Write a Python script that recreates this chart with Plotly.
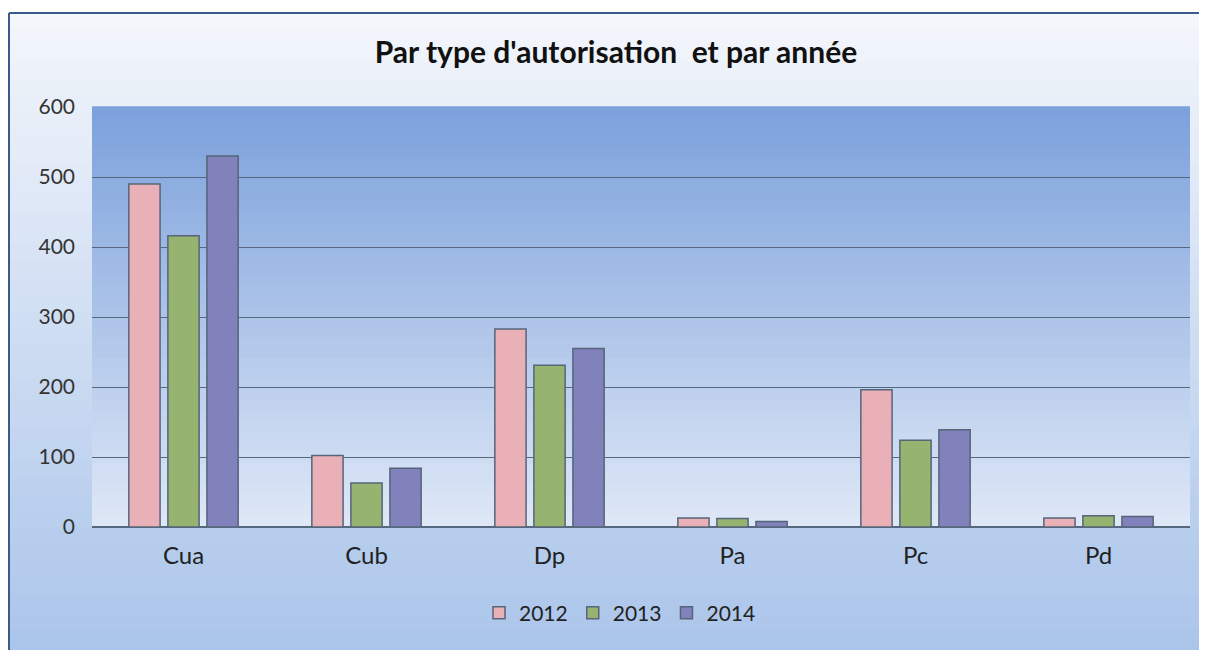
import plotly.graph_objects as go

categories = ['Cua', 'Cub', 'Dp', 'Pa', 'Pc', 'Pd']
years = ['2012', '2013', '2014']
values_2012 = [490, 102, 283, 13, 196, 13]
values_2013 = [416, 63, 231, 12, 124, 16]
values_2014 = [530, 84, 255, 8, 139, 15]
y_ticks = [0, 100, 200, 300, 400, 500, 600]

colors = ['#e9b0b8', '#97b370', '#8181bb']

W, H = 1207, 650
# the page puts the figure 8px in from the top-left corner
L, R, T, B = 84, 25, 99, 131
PW, PH = W - L - R, H - T - B


def px_x(x):
    # figure pixel -> paper coordinate
    return (x - L) / PW


def px_y(y):
    return (H - B - y) / PH


def blend(c1, c2, t):
    a = [int(c1[i:i + 2], 16) for i in (1, 3, 5)]
    b = [int(c2[i:i + 2], 16) for i in (1, 3, 5)]
    return 'rgb(%d,%d,%d)' % tuple(round(a[k] + (b[k] - a[k]) * t) for k in range(3))


def gradient(xref, yref, x0, x1, y0, y1, top, bottom, steps=40):
    shapes = []
    h = (y1 - y0) / steps
    for i in range(steps):
        t = i / (steps - 1)
        shapes.append(dict(
            type='rect', xref=xref, yref=yref, layer='below',
            x0=x0, x1=x1, y0=y1 - (i + 1) * h, y1=y1 - i * h + 0.002,
            fillcolor=blend(top, bottom, t), line_width=0,
        ))
    return shapes


fig = go.Figure()
for year, vals, color in zip(years, [values_2012, values_2013, values_2014], colors):
    fig.add_trace(go.Bar(
        name=year, x=categories, y=vals,
        marker=dict(color=color, line=dict(color='#56657a', width=1.5)),
    ))

shapes = []
# chart area background (scan: white edge, then light blue gradient)
shapes += gradient('paper', 'paper', px_x(1), px_x(W + 20), px_y(H + 20), px_y(5), '#f3f6fb', '#a8c3ea')
shapes += gradient('x domain', 'y domain', 0, 1, 0, 1, '#7ca1dc', '#dde7f6')
shapes.append(dict(type='line', xref='paper', yref='paper', x0=px_x(1), x1=px_x(W + 20),
                   y0=px_y(5), y1=px_y(5), line=dict(color='#3c5a88', width=2)))
shapes.append(dict(type='line', xref='paper', yref='paper', x0=px_x(1), x1=px_x(1),
                   y0=px_y(H + 20), y1=px_y(5), line=dict(color='#3c5a88', width=2)))

fig.update_layout(
    width=W, height=H,
    margin=dict(l=L, r=R, t=T, b=B),
    paper_bgcolor='white',
    plot_bgcolor='rgba(0,0,0,0)',
    font=dict(family='Lato, Open Sans, sans-serif', color='#222222'),
    title=dict(text="<b>Par type d'autorisation  et par année</b>", x=608 / W, xanchor='center',
               y=1 - 44 / H, yanchor='middle', font=dict(size=30, color='#111111')),
    barmode='group', bargap=0.36, bargroupgap=0.2,
    shapes=shapes,
    legend=dict(orientation='h', x=px_x(612), xanchor='center', y=px_y(605), yanchor='middle',
                font=dict(size=21, color='#222222'), bgcolor='rgba(0,0,0,0)'),
    xaxis=dict(tickfont=dict(size=24, color='#222222'), showgrid=False, ticks='', showline=False,
               ticklabelstandoff=12),
    yaxis=dict(range=[0, 600], tickvals=y_ticks, tickfont=dict(size=21, color='#333333'),
               gridcolor='#56687e', gridwidth=1, zeroline=True, zerolinecolor='#56687e',
               ticks='', ticklabelstandoff=16),
)

fig.write_html("out.html")
